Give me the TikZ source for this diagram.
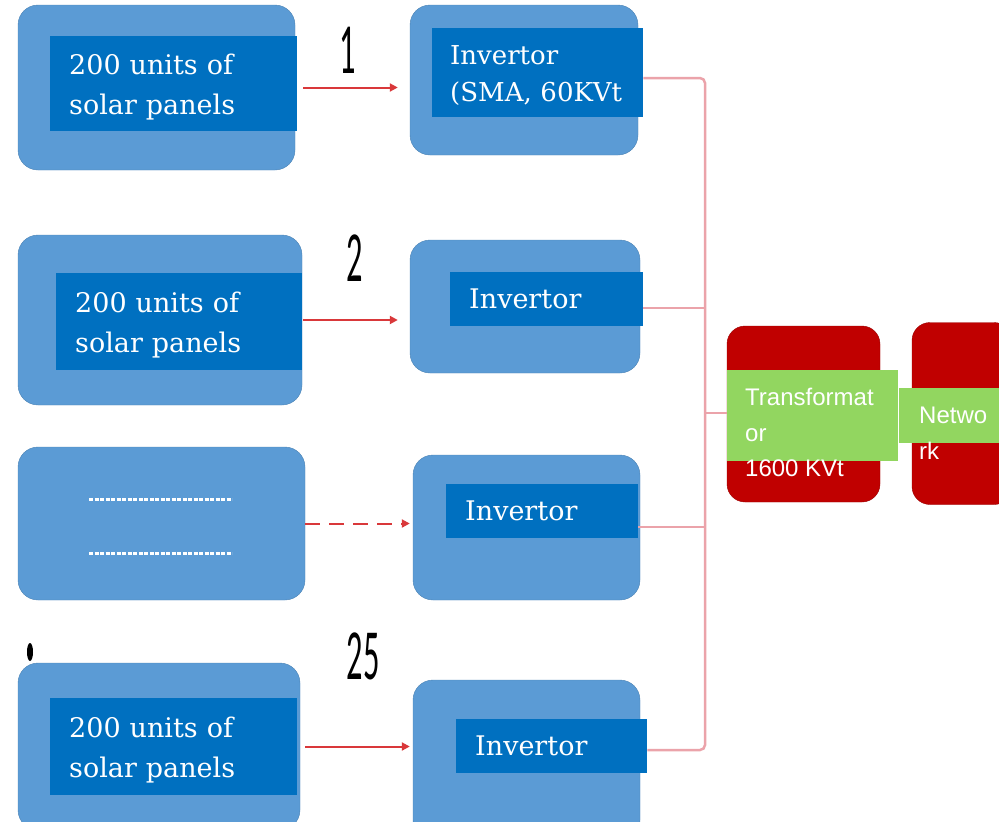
\documentclass[tikz,border=0pt]{standalone}
\usepackage{fontspec}
\setmainfont{DejaVu Serif}
\newfontfamily\arialfont{Liberation Sans}
\newfontfamily\numfont{Carlito}
\usetikzlibrary{arrows.meta}
\definecolor{panelblue}{HTML}{5B9BD5}
\definecolor{boxblue}{HTML}{0070C0}
\definecolor{trred}{HTML}{C00000}
\definecolor{trgreen}{HTML}{92D660}
\definecolor{wirered}{HTML}{D9383A}
\definecolor{buspink}{HTML}{EBA3AA}

\begin{document}
\begin{tikzpicture}[x=1pt,y=-1pt,
    flow/.style={draw=wirered,line width=2pt,-{Triangle[length=8pt,width=8pt]}},
    bus/.style={draw=buspink,line width=2.5pt,rounded corners=5pt},
    num/.style={inner sep=0,font=\numfont\fontsize{72}{72}\selectfont}]

  \useasboundingbox (0,0) rectangle (999,822);
  \clip (0,0) rectangle (999,822);

  % bus behind the boxes
  \coordinate (btop) at (705,78);
  \coordinate (b2)   at (705,308);
  \coordinate (bmid) at (705,413);
  \coordinate (b3)   at (705,527);
  \coordinate (bbot) at (705,750);

  % outer panels
  \begin{scope}[every node/.style={draw=panelblue!85!black,fill=panelblue,rounded corners=20pt,inner sep=0}]
    \node[minimum width=277,minimum height=165] (p1) at (156.5,87.5)  {};
    \node[minimum width=284,minimum height=170] (p2) at (160,320)     {};
    \node[minimum width=287,minimum height=153] (p3) at (161.5,523.5) {};
    \node[minimum width=282,minimum height=167] (p4) at (159,746.5)   {};
    \node[minimum width=228,minimum height=150] (i1) at (524,80)      {};
    \node[minimum width=230,minimum height=133] (i2) at (525,306.5)   {};
    \node[minimum width=227,minimum height=145] (i3) at (526.5,527.5) {};
    \node[minimum width=227,minimum height=160] (i4) at (526.5,760)   {};
  \end{scope}

  % dotted rows in the third panel
  \draw[white,line width=3pt,dash pattern=on 4pt off 1.5pt] (89,499) -- (232,499);
  \draw[white,line width=3pt,dash pattern=on 4pt off 1.5pt] (89,553) -- (232,553);

  % labels on the panels
  \begin{scope}[every node/.style={fill=boxblue,text=white,inner xsep=19pt,align=left,anchor=west,
      font=\fontsize{27}{40}\selectfont}]
    \node[minimum height=95,text width=209]  (l1) at (50,83.5)   {\rule{0pt}{27pt}200 units of\\solar panels};
    \node[minimum height=97,text width=208]  (l2) at (56,321.5)  {\rule{0pt}{27pt}200 units of\\solar panels};
    \node[minimum height=97,text width=209]  (l4) at (50,746.5)  {\rule{0pt}{27pt}200 units of\\solar panels};
    \node[minimum height=89,text width=175,inner xsep=18pt,font=\fontsize{26}{37}\selectfont]
                                             (v1) at (432,72.5)  {\rule{0pt}{26pt}Invertor\\(SMA, 60KVt};
    \node[minimum height=54,text width=155]  (v2) at (450,299)   {Invertor};
    \node[minimum height=54,text width=154]  (v3) at (446,511)   {Invertor};
    \node[minimum height=54,text width=153]  (v4) at (456,746)   {Invertor};
  \end{scope}

  \draw[bus] (v1.east |- btop) -- (btop) -- (bbot) -- (v4.east |- bbot);
  \draw[bus] (v2.east |- b2) -- (b2);
  \draw[bus] (v3.east |- b3) -- (b3);

  % transformer and network
  \begin{scope}[every node/.style={fill=trred,draw=trred!80!black,rounded corners=18pt,inner sep=0}]
    \node[minimum width=153,minimum height=176] (trf) at (803.5,414) {};
    \node[minimum width=100,minimum height=182] (net) at (962,413.5) {};
  \end{scope}
  \draw[bus] (bmid) -- (bmid -| trf.west);

  \begin{scope}[every node/.style={fill=trgreen,inner sep=0}]
    \node[minimum width=171,minimum height=91] (g1) at (812.5,415.5) {};
    \node[minimum width=100,minimum height=55] (g2) at (949,415.5)   {};
  \end{scope}

  \begin{scope}[every node/.style={text=white,inner sep=0,align=left,anchor=north west,
      font=\arialfont\fontsize{24}{35.5}\selectfont}]
    \node (trftext) at (745,388) {Transformat\\or\\1600 KVt};
    \node (nettext) at (919,407) {Netwo\\rk};
  \end{scope}

  % arrows from panels to invertors
  \path (p1.east) edge[flow,shorten <=8pt,shorten >=12pt] (p1.east -| i1.west);
  \path (p2.east) edge[flow,shorten <=1pt,shorten >=12pt] (p2.east -| i2.west);
  \path (p3.east) edge[flow,dash pattern=on 15pt off 9pt,shorten >=3pt] (p3.east -| i3.west);
  \path (p4.east) edge[flow,shorten <=5pt,shorten >=3pt] (p4.east -| i4.west);

  \node[num] (lab1)  at (348,50)  {\scalebox{0.45}[1]{1}};
  \node[num] (lab2)  at (355,258) {\scalebox{0.45}[1]{2}};
  \node[num] (lab25) at (363,656) {\scalebox{0.45}[1]{25}};

  \fill (30,652) ellipse [x radius=3pt,y radius=9pt];

\end{tikzpicture}
\end{document}
